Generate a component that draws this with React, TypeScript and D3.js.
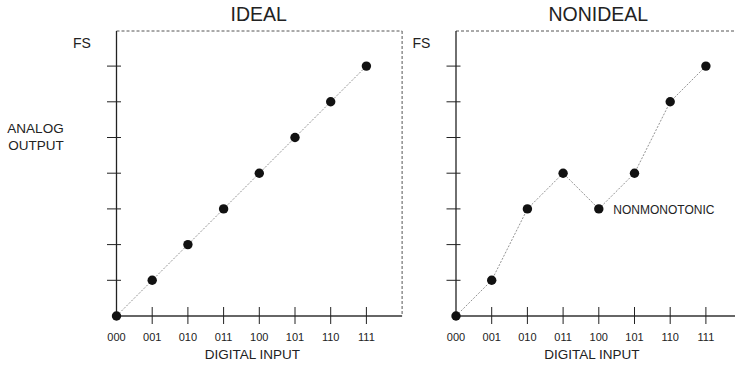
import React from "react";
import * as d3 from "d3";

const codes = ["000", "001", "010", "011", "100", "101", "110", "111"];
const idealValues = [0, 1, 2, 3, 4, 5, 6, 7];
const nonidealValues = [0, 1, 3, 4, 3, 4, 6, 7];
const levelTicks = [1, 2, 3, 4, 5, 6, 7];
const titles = ["IDEAL", "NONIDEAL"];
const annotation = { index: 4, text: "NONMONOTONIC" };

const W = 735;
const H = 365;
const FONT = "'Liberation Sans', Arial, Helvetica, sans-serif";
const yScale = d3.scaleLinear().domain([0, 8]).range([316, 30.4]);

function Panel({ x0, title, values, note }: { x0: number; title: string; values: number[]; note?: { index: number; text: string } }) {
  const x = d3.scaleLinear().domain([0, 8]).range([x0, x0 + 285.6]);
  const xEnd = Math.min(x(8), W + 5);
  const line = d3
    .line<number>()
    .x((_, i) => x(i))
    .y((v) => yScale(v));
  const yTop = yScale(8) + 0.6;
  return (
    <g>
      <text x={(x(0) + x(8)) / 2 - 0.5} y={21} textAnchor="middle" fontSize={19.5} fill="#222" fontFamily={FONT}>
        {title}
      </text>
      {/* dashed frame */}
      <line x1={x(0)} x2={xEnd} y1={yTop} y2={yTop} stroke="#555" strokeWidth={1} strokeDasharray="3,2" />
      {x(8) < W && (
        <line x1={x(8)} x2={x(8)} y1={yTop} y2={yScale(0)} stroke="#555" strokeWidth={1} strokeDasharray="3,2" />
      )}
      {/* axes */}
      <line x1={x(0)} x2={xEnd} y1={yScale(0)} y2={yScale(0)} stroke="#666" strokeWidth={2} />
      <line x1={x(0)} x2={x(0)} y1={yTop} y2={yScale(0)} stroke="#222" strokeWidth={1.3} />
      {levelTicks.map((t) => (
        <line key={"y" + t} x1={x(0) - 9.5} x2={x(0) + 4.5} y1={yScale(t)} y2={yScale(t)} stroke="#222" strokeWidth={1} />
      ))}
      {codes.map((c, i) =>
        i > 0 ? (
          <line key={"x" + c} x1={x(i)} x2={x(i)} y1={307} y2={324} stroke="#222" strokeWidth={1} />
        ) : null
      )}
      {codes.map((c, i) => (
        <text key={"l" + c} x={x(i)} y={341} textAnchor="middle" fontSize={11} fill="#222" fontFamily={FONT}>
          {c}
        </text>
      ))}
      <text x={(x(0) + x(8)) / 2 - 7} y={359} textAnchor="middle" fontSize={13.5} fill="#222" fontFamily={FONT}>
        DIGITAL INPUT
      </text>
      <text x={x(0) - 43.5} y={48} fontSize={14} fill="#222" fontFamily={FONT}>
        FS
      </text>
      <path d={line(values) || ""} fill="none" stroke="#777" strokeWidth={0.8} strokeDasharray="2,1.5" />
      {values.map((v, i) => (
        <circle key={"p" + i} cx={x(i)} cy={yScale(v)} r={4.7} fill="#111" />
      ))}
      {note && (
        <text x={x(note.index) + 14.5} y={yScale(values[note.index]) + 5} fontSize={12} fill="#222" fontFamily={FONT}>
          {note.text}
        </text>
      )}
    </g>
  );
}

export default function App() {
  return (
    <svg width={W} height={H} style={{ display: "block", position: "absolute", left: 0, top: 0 }}>
      <rect width={W} height={H} fill="#fff" />
      <text x={35.5} y={133} textAnchor="middle" fontSize={13.5} fill="#222" fontFamily={FONT}>
        ANALOG
      </text>
      <text x={36} y={150} textAnchor="middle" fontSize={13.5} fill="#222" fontFamily={FONT}>
        OUTPUT
      </text>
      <Panel x0={116.5} title={titles[0]} values={idealValues} />
      <Panel x0={456} title={titles[1]} values={nonidealValues} note={annotation} />
    </svg>
  );
}
